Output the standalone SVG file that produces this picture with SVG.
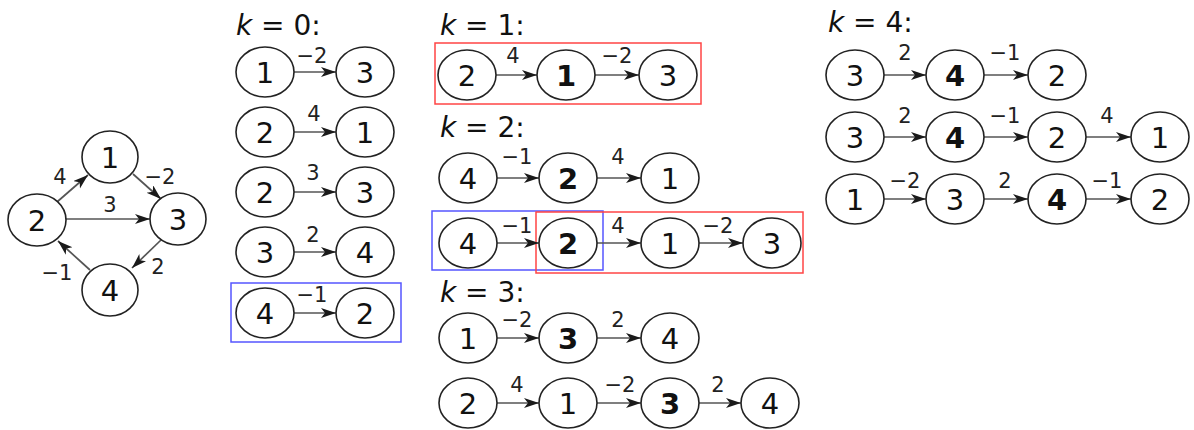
<svg xmlns="http://www.w3.org/2000/svg" width="1194" height="430" viewBox="0 0 1194 430">
<defs>
<marker id="ah" markerUnits="userSpaceOnUse" markerWidth="18" markerHeight="12" refX="15" refY="5" orient="auto">
<path d="M0,0 L15,5 L0,10 L4,5 Z" fill="#1a1a1a"/>
</marker>
<style>
.n ellipse{fill:#fff;stroke:#222;stroke-width:1.6}
.n text{font-family:"DejaVu Sans",sans-serif;font-size:29px;text-anchor:middle;fill:#111}
.n .b{font-weight:bold}
.e line{stroke:#555;stroke-width:1.7;marker-end:url(#ah)}
.l{font-family:"DejaVu Sans",sans-serif;font-size:21px;text-anchor:middle;fill:#222}
.h{font-family:"DejaVu Sans",sans-serif;font-size:28px;fill:#111}
.red{fill:none;stroke:#f44;stroke-width:1.5}
.blue{fill:none;stroke:#55f;stroke-width:1.5}
</style>
</defs>
<rect width="1194" height="430" fill="#fff"/>

<g id="headers">
<text class="h" x="236" y="35"><tspan font-style="italic">k</tspan> = 0:</text>
<text class="h" x="440" y="35"><tspan font-style="italic">k</tspan> = 1:</text>
<text class="h" x="440" y="137"><tspan font-style="italic">k</tspan> = 2:</text>
<text class="h" x="440" y="302"><tspan font-style="italic">k</tspan> = 3:</text>
<text class="h" x="828" y="32"><tspan font-style="italic">k</tspan> = 4:</text>
</g>

<g id="boxes">
<rect class="blue" x="231" y="283" width="170" height="59"/>
<rect class="red" x="435" y="43" width="266" height="61"/>
<rect class="blue" x="432" y="211" width="171" height="59"/>
<rect class="red" x="536" y="212" width="267" height="61"/>
</g>

<g id="connectors" class="e">
<line x1="57" y1="202" x2="88" y2="175"/>
<line x1="133" y1="174" x2="161" y2="199"/>
<line x1="66" y1="219" x2="150" y2="219"/>
<line x1="161" y1="240" x2="132" y2="268"/>
<line x1="90" y1="270" x2="58" y2="241"/>
<line x1="294" y1="72" x2="336" y2="72"/>
<line x1="294" y1="132" x2="336" y2="132"/>
<line x1="294" y1="192" x2="336" y2="192"/>
<line x1="294" y1="252" x2="336" y2="252"/>
<line x1="294" y1="313" x2="336" y2="313"/>
<line x1="496" y1="75" x2="537" y2="75"/>
<line x1="595" y1="75" x2="639" y2="75"/>
<line x1="497" y1="178" x2="539" y2="178"/>
<line x1="597" y1="178" x2="641" y2="178"/>
<line x1="497" y1="243" x2="539" y2="243"/>
<line x1="597" y1="243" x2="641" y2="243"/>
<line x1="699" y1="243" x2="743" y2="243"/>
<line x1="497" y1="338" x2="539" y2="338"/>
<line x1="597" y1="338" x2="641" y2="338"/>
<line x1="497" y1="403" x2="539" y2="403"/>
<line x1="597" y1="403" x2="641" y2="403"/>
<line x1="699" y1="403" x2="741" y2="403"/>
<line x1="884" y1="75" x2="926" y2="75"/>
<line x1="984" y1="75" x2="1028" y2="75"/>
<line x1="884" y1="137" x2="926" y2="137"/>
<line x1="984" y1="137" x2="1028" y2="137"/>
<line x1="1086" y1="137" x2="1131" y2="137"/>
<line x1="884" y1="199" x2="926" y2="199"/>
<line x1="984" y1="199" x2="1028" y2="199"/>
<line x1="1086" y1="199" x2="1131" y2="199"/>
</g>

<g id="edge-labels">
<text class="l" x="60" y="184">4</text>
<text class="l" x="160" y="184">−2</text>
<text class="l" x="110" y="212">3</text>
<text class="l" x="158" y="274">2</text>
<text class="l" x="57" y="280">−1</text>
<text class="l" x="312" y="63">−2</text>
<text class="l" x="314" y="121">4</text>
<text class="l" x="313" y="180">3</text>
<text class="l" x="313" y="242">2</text>
<text class="l" x="312" y="302">−1</text>
<text class="l" x="513" y="63">4</text>
<text class="l" x="617" y="63">−2</text>
<text class="l" x="517" y="164">−1</text>
<text class="l" x="618" y="164">4</text>
<text class="l" x="517" y="233">−1</text>
<text class="l" x="618" y="233">4</text>
<text class="l" x="718" y="233">−2</text>
<text class="l" x="517" y="327">−2</text>
<text class="l" x="618" y="327">2</text>
<text class="l" x="517" y="392">4</text>
<text class="l" x="620" y="392">−2</text>
<text class="l" x="718" y="392">2</text>
<text class="l" x="905" y="60">2</text>
<text class="l" x="1005" y="60">−1</text>
<text class="l" x="905" y="123">2</text>
<text class="l" x="1005" y="123">−1</text>
<text class="l" x="1107" y="123">4</text>
<text class="l" x="905" y="188">−2</text>
<text class="l" x="1005" y="188">2</text>
<text class="l" x="1107" y="188">−1</text>
</g>

<g id="g-1" class="n"><ellipse cx="110" cy="157" rx="28" ry="26"/><text x="110" y="168">1</text></g>
<g id="g-2" class="n"><ellipse cx="37" cy="220" rx="29" ry="26"/><text x="37" y="231">2</text></g>
<g id="g-3" class="n"><ellipse cx="178" cy="219" rx="28" ry="26"/><text x="178" y="230">3</text></g>
<g id="g-4" class="n"><ellipse cx="110" cy="290" rx="28" ry="26"/><text x="110" y="301">4</text></g>

<g id="k0-r1-a" class="n"><ellipse cx="265" cy="72" rx="29" ry="25"/><text x="265" y="83">1</text></g>
<g id="k0-r1-b" class="n"><ellipse cx="365" cy="72" rx="29" ry="25"/><text x="365" y="83">3</text></g>
<g id="k0-r2-a" class="n"><ellipse cx="265" cy="132" rx="29" ry="25"/><text x="265" y="143">2</text></g>
<g id="k0-r2-b" class="n"><ellipse cx="365" cy="132" rx="29" ry="25"/><text x="365" y="143">1</text></g>
<g id="k0-r3-a" class="n"><ellipse cx="265" cy="192" rx="29" ry="25"/><text x="265" y="203">2</text></g>
<g id="k0-r3-b" class="n"><ellipse cx="365" cy="192" rx="29" ry="25"/><text x="365" y="203">3</text></g>
<g id="k0-r4-a" class="n"><ellipse cx="265" cy="252" rx="29" ry="25"/><text x="265" y="263">3</text></g>
<g id="k0-r4-b" class="n"><ellipse cx="365" cy="252" rx="29" ry="25"/><text x="365" y="263">4</text></g>
<g id="k0-r5-a" class="n"><ellipse cx="265" cy="313" rx="29" ry="25"/><text x="265" y="324">4</text></g>
<g id="k0-r5-b" class="n"><ellipse cx="365" cy="313" rx="29" ry="25"/><text x="365" y="324">2</text></g>

<g id="k1-a" class="n"><ellipse cx="467" cy="75" rx="29" ry="25"/><text x="467" y="86">2</text></g>
<g id="k1-b" class="n"><ellipse cx="566" cy="75" rx="29" ry="25"/><text class="b" x="566" y="86">1</text></g>
<g id="k1-c" class="n"><ellipse cx="668" cy="75" rx="29" ry="25"/><text x="668" y="86">3</text></g>

<g id="k2-r1-a" class="n"><ellipse cx="468" cy="178" rx="29" ry="25"/><text x="468" y="189">4</text></g>
<g id="k2-r1-b" class="n"><ellipse cx="568" cy="178" rx="29" ry="25"/><text class="b" x="568" y="189">2</text></g>
<g id="k2-r1-c" class="n"><ellipse cx="670" cy="178" rx="29" ry="25"/><text x="670" y="189">1</text></g>
<g id="k2-r2-a" class="n"><ellipse cx="468" cy="243" rx="29" ry="25"/><text x="468" y="254">4</text></g>
<g id="k2-r2-b" class="n"><ellipse cx="568" cy="243" rx="29" ry="25"/><text class="b" x="568" y="254">2</text></g>
<g id="k2-r2-c" class="n"><ellipse cx="670" cy="243" rx="29" ry="25"/><text x="670" y="254">1</text></g>
<g id="k2-r2-d" class="n"><ellipse cx="772" cy="243" rx="29" ry="25"/><text x="772" y="254">3</text></g>

<g id="k3-r1-a" class="n"><ellipse cx="468" cy="338" rx="29" ry="25"/><text x="468" y="349">1</text></g>
<g id="k3-r1-b" class="n"><ellipse cx="568" cy="338" rx="29" ry="25"/><text class="b" x="568" y="349">3</text></g>
<g id="k3-r1-c" class="n"><ellipse cx="670" cy="338" rx="29" ry="25"/><text x="670" y="349">4</text></g>
<g id="k3-r2-a" class="n"><ellipse cx="468" cy="403" rx="29" ry="25"/><text x="468" y="414">2</text></g>
<g id="k3-r2-b" class="n"><ellipse cx="568" cy="403" rx="29" ry="25"/><text x="568" y="414">1</text></g>
<g id="k3-r2-c" class="n"><ellipse cx="670" cy="403" rx="29" ry="25"/><text class="b" x="670" y="414">3</text></g>
<g id="k3-r2-d" class="n"><ellipse cx="770" cy="403" rx="29" ry="25"/><text x="770" y="414">4</text></g>

<g id="k4-r1-a" class="n"><ellipse cx="855" cy="75" rx="29" ry="25"/><text x="855" y="86">3</text></g>
<g id="k4-r1-b" class="n"><ellipse cx="955" cy="75" rx="29" ry="25"/><text class="b" x="955" y="86">4</text></g>
<g id="k4-r1-c" class="n"><ellipse cx="1057" cy="75" rx="29" ry="25"/><text x="1057" y="86">2</text></g>
<g id="k4-r2-a" class="n"><ellipse cx="855" cy="137" rx="29" ry="25"/><text x="855" y="148">3</text></g>
<g id="k4-r2-b" class="n"><ellipse cx="955" cy="137" rx="29" ry="25"/><text class="b" x="955" y="148">4</text></g>
<g id="k4-r2-c" class="n"><ellipse cx="1057" cy="137" rx="29" ry="25"/><text x="1057" y="148">2</text></g>
<g id="k4-r2-d" class="n"><ellipse cx="1160" cy="137" rx="29" ry="25"/><text x="1160" y="148">1</text></g>
<g id="k4-r3-a" class="n"><ellipse cx="855" cy="199" rx="29" ry="25"/><text x="855" y="210">1</text></g>
<g id="k4-r3-b" class="n"><ellipse cx="955" cy="199" rx="29" ry="25"/><text x="955" y="210">3</text></g>
<g id="k4-r3-c" class="n"><ellipse cx="1057" cy="199" rx="29" ry="25"/><text class="b" x="1057" y="210">4</text></g>
<g id="k4-r3-d" class="n"><ellipse cx="1160" cy="199" rx="29" ry="25"/><text x="1160" y="210">2</text></g>
</svg>
